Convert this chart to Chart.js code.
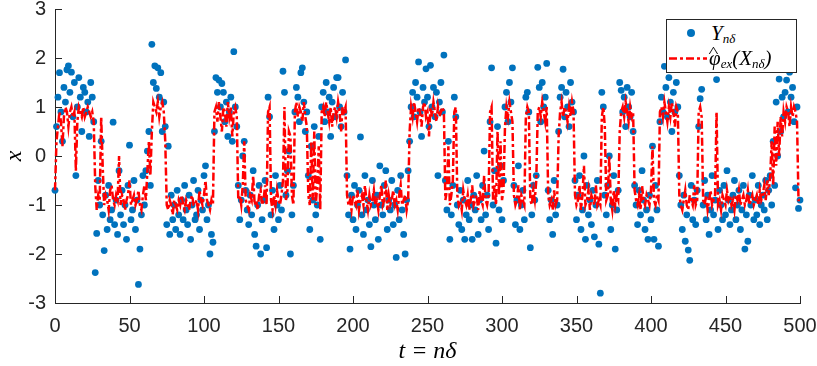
<!DOCTYPE html>
<html>
<head>
<meta charset="utf-8">
<script src="https://cdn.jsdelivr.net/npm/chart.js@4/dist/chart.umd.min.js"></script>
<style>
  html, body { margin: 0; padding: 0; background: #fff; }
  #wrap { position: relative; width: 817px; height: 366px; }
  #legend {
    position: absolute; left: 666px; top: 19px; width: 131px; height: 54px;
    border: 1px solid #262626; background: #fff; box-sizing: border-box;
    font-family: "Liberation Serif", "DejaVu Serif", serif; font-style: italic;
    font-size: 21px; color: #000;
  }
  #legend .row { position: absolute; left: 0; height: 24px; line-height: 24px; white-space: nowrap; }
  #legend sub { font-size: 13px; vertical-align: -3px; }
  #legend .txt { position: absolute; left: 44px; }
  #legend .dot { position: absolute; left: 20px; top: 8px; width: 8px; height: 8px; border-radius: 50%; background: #0072BD; }
  #legend .dash { position: absolute; left: 2px; top: 11px; width: 38px; height: 3px; }
  #legend .hat { position: relative; display: inline-block; }
  #legend .hat i { position: absolute; left: 1px; top: -1px; font-style: normal; font-size: 15px; line-height: 15px; transform: scaleX(1.4); }
</style>
</head>
<body>
<div id="wrap">
  <canvas id="chart" width="817" height="366"></canvas>
  <div id="legend">
    <div class="row" style="top:1px;width:129px"><span class="dot"></span><span class="txt">Y<sub>nδ</sub></span></div>
    <div class="row" style="top:26px;width:129px"><canvas class="dash" id="dash" width="38" height="3"></canvas><span class="txt" style="left:42px"><span class="hat">φ<i>^</i></span><sub>ex</sub>(X<sub>nδ</sub>)</span></div>
  </div>
</div>
<script>
// time axis: t = n*delta, n = 0..500
const tStart = 0;
const tStep = 1;

// observations Y_{n delta}
const yObs = [
  -0.7, 0.6, 1.2, 1.7, 0.9, 0.3, 1.4, 1.1, 1.76, 1.84,
  1.3, 1.71, 0.8, 1.5, -0.4, 1.0, 1.6, 1.2, 0.5, 1.4,
  1.3, 0.9, 1.1, 0.4, 1.5, 1.2, 0.7, -2.38, -1.58, -0.5,
  -1.0, 0.3, -1.2, -1.93, -0.8, -1.5, -0.6, -1.3, -1.1, 0.69,
  -1.4, -0.9, -1.6, -0.3, -1.2, -0.7, -1.4, -1.0, -1.7, -0.6,
  0.22, -1.3, -1.1, -0.5, -1.5, -0.9, -2.62, -1.9, -1.2, -0.4,
  -1.0, -0.3, 0.1, 0.5, -0.6, 2.28, 1.5, 1.84, 1.38, 1.8,
  1.2, 1.7, 0.5, 1.1, 0.6, -1.4, 0.2, -1.6, -0.8, -1.3,
  -1.0, -1.5, -0.7, -1.2, -1.6, -0.9, -1.3, -0.6, -1.1, -1.4,
  -0.8, -1.7, -1.0, -0.5, -1.3, -1.2, -0.7, -1.5, -0.9, -1.1,
  -0.4, -0.2, -1.3, -1.0, -2.0, -1.6, -1.76, 0.5, 1.6, 1.3,
  1.55, 1.0, 1.48, 1.3, 0.7, 1.1, 0.4, 0.9, 1.2, 0.3,
  2.13, 1.0, 0.6, -0.6, -1.3, -0.9, 0.0, 0.3, -0.7, -1.1,
  -1.4, -0.8, -1.2, -0.3, -1.6, -1.84, -1.0, -0.6, -2.0, -1.3,
  -0.9, -0.5, -1.87, 1.2, 0.8, -1.2, -0.7, -1.5, -0.4, -1.0,
  -1.3, -0.6, -1.1, 1.73, 1.3, -0.8, -0.3, 0.1, -2.0, -1.2,
  -0.6, 0.9, 1.4, 1.2, 0.7, 1.7, 1.8, 1.1, 0.5, 0.9,
  -0.4, -1.5, 0.2, -0.9, 0.6, -1.2, -1.0, 0.4, -1.7, 1.0,
  1.3, 0.7, 1.5, 0.9, 1.2, 0.4, 1.1, 1.4, 0.8, 1.6,
  1.6, 1.0, 0.6, 1.3, 0.9, 1.96, -0.4, -1.2, -1.9, -0.8,
  -1.3, -0.6, -1.5, -1.0, -0.7, 0.39, -1.2, -1.6, -0.4, -1.1,
  -0.9, -1.4, -1.85, -0.5, -1.0, -1.3, -0.8, -1.7, -0.2, -1.0,
  -1.2, -0.6, -0.3, -1.5, -0.9, -1.1, -0.5, -1.4, -1.0, -2.07,
  -0.7, -1.3, -0.4, -1.1, -1.6, -2.0, -0.9, -0.3, 0.3, 1.0,
  1.3, 0.8, 1.5, 1.2, 1.92, 0.9, 0.4, 1.4, 1.1, 1.78,
  1.2, 0.6, 1.85, 1.0, 1.4, 0.8, 1.3, -0.4, 1.1, 1.5,
  0.9, 2.06, -0.5, -1.1, 0.3, -1.7, -1.2, -0.6, 1.2, 0.8,
  -1.0, -1.4, -0.7, -1.5, -0.9, -1.7, -1.2, -0.5, -1.3, -1.0,
  -1.7, -0.8, -1.1, -0.4, -1.6, -0.9, -1.3, -0.6, 0.1, -1.2,
  -0.8, -1.5, 0.7, 1.8, -1.0, -0.3, -1.78, 0.6, -1.1, -0.2,
  -1.3, -0.5, 1.0, 1.3, 0.7, 1.5, 1.1, 1.8, -0.6, -1.4,
  -0.9, -0.2, -1.5, -1.0, -0.7, -1.3, 1.2, 1.3, 0.9, -1.87,
  -1.2, -0.6, -0.9, -0.4, 1.81, 1.4, 0.7, 1.5, 1.0, 1.2,
  1.89, -0.7, -1.3, -0.9, -1.6, -0.5, -1.2, -1.0, 0.5, 1.2,
  1.4, 1.77, 0.8, 1.3, 1.0, 0.6, 1.5, 1.1, 0.9, -0.5,
  -1.3, -0.8, -0.4, -1.5, -1.1, 0.0, -1.7, -0.6, -1.2, -0.9,
  -1.4, -0.7, -1.65, -1.0, -0.5, -1.8, -2.8, 1.3, 1.0, -0.8,
  -1.2, -0.6, 0.0, -1.5, -1.0, -0.4, -1.9, -1.1, -0.7, 1.5,
  1.34, 0.9, 1.2, 0.6, 1.4, 1.0, 0.8, 1.3, 0.5, -0.6,
  -1.0, -1.4, -0.7, -1.2, -0.3, -0.9, -1.5, -1.1, -1.7, -0.8,
  -1.3, 0.2, -1.7, -0.6, -1.1, -1.84, 0.7, 1.2, 0.9, 1.83,
  1.4, 0.8, 1.6, 1.1, 0.5, 1.3, 0.9, 1.5, 1.0, -0.4,
  -1.0, -1.5, -0.8, -1.74, -1.2, -1.92, -2.13, -0.6, -1.3, -0.9,
  -1.4, -0.7, 0.6, 1.17, 1.36, -1.0, -0.5, -1.3, -0.8, -1.6,
  -1.1, -0.4, -1.2, -0.9, 1.56, -1.5, -0.7, -1.0, -1.3, -0.6,
  -1.2, -0.3, -0.9, -1.4, -1.1, -0.8, -0.5, -1.3, -1.0, -0.7,
  -1.5, -1.1, -0.6, -1.9, -1.2, -1.74, -0.8, -1.0, -0.4, -1.3,
  -0.9, -1.2, -0.6, -1.4, -1.0, -0.8, -1.1, -0.5, -1.3, -0.7,
  -0.4, -1.0, 0.3, -0.6, 1.1, 0.0, 1.57, 0.5, 1.2, 0.8,
  1.3, 1.55, 0.9, 1.71, 1.2, 1.4, 0.7, -0.65, 1.0, -1.07,
  -0.9
];

// estimate phi_ex(X_{n delta})
const phiEx = [
  -0.7, 0.3, 0.6, 0.9, 0.7, 0.2, 0.8, 1.0, 0.9, 0.6,
  0.9, 1.0, 0.8, 0.9, -0.3, 0.7, 1.0, 0.9, 0.8, 1.0,
  0.8, 0.9, 1.0, 0.9, 0.8, 0.9, 0.7, -0.6, -1.1, -0.8,
  -0.9, 0.8, -0.2, -1.0, -0.8, -0.9, -1.1, -0.7, -0.6, -0.9,
  -1.0, -0.8, -0.9, 0.0, -1.0, -0.8, -0.9, -1.1, -0.9, -0.8,
  -0.5, -1.0, -0.9, -0.8, -1.0, -0.9, -0.7, -1.0, -1.1, -0.8,
  -0.6, -0.9, -0.3, 0.3, -0.4, 0.5, 1.1, 1.0, 0.9, 1.1,
  0.8, 1.0, 1.1, 0.9, 0.3, -1.0, -1.1, -0.9, -1.0, -1.2,
  -0.9, -1.0, -1.1, -0.9, -1.0, -0.8, -1.0, -1.1, -0.9, -1.0,
  -1.1, -0.9, -0.8, -1.0, -1.0, -0.9, -1.1, -0.7, -0.9, -1.0,
  -0.8, -0.5, -0.9, -1.0, -1.1, -0.9, -1.0, 0.9, 1.0, 0.7,
  1.1, 0.8, 0.5, 1.0, 0.9, 0.6, 1.1, 0.8, 1.0, 0.4,
  0.9, 1.0, 0.8, -0.9, -0.8, -1.0, -0.6, 0.3, -0.9, -1.0,
  -1.1, -0.8, -0.9, -0.4, -1.0, -0.9, -1.1, -0.8, -0.7, -1.0,
  -0.9, -0.6, -1.0, 0.9, 1.0, -0.9, -1.1, -0.8, -1.0, -0.7,
  -0.9, -1.0, -0.8, -0.5, 1.0, -0.9, -0.7, 0.5, 0.4, -0.8,
  -1.0, 0.9, 1.1, 0.8, 1.0, 0.9, 0.7, 1.1, 0.8, 0.6,
  -0.8, -1.0, 0.3, -0.9, 0.5, -1.0, -0.6, 0.2, -1.1, 0.9,
  1.0, 0.8, 1.1, 0.9, 0.7, 1.0, 0.6, 0.9, 1.0, 0.8,
  1.1, 0.9, 0.5, 1.0, 0.9, 1.0, -0.8, -1.0, -0.9, -1.1,
  -0.8, -0.9, -1.0, -0.7, -1.1, -0.9, -0.8, -1.0, -0.6, -0.9,
  -1.1, -0.8, -1.0, -0.9, -0.7, -1.0, -0.9, -1.1, -0.8, -0.6,
  -1.0, -0.9, -0.5, -1.1, -0.8, -1.0, -0.9, -0.7, -1.0, -0.9,
  -1.1, -0.8, -0.6, -1.0, -0.9, -0.8, -1.1, -0.9, 0.5, 1.0,
  0.8, 1.1, 0.9, 0.7, 1.0, 0.9, 0.6, 1.0, 1.1, 0.8,
  0.9, 0.4, 1.0, 0.8, 1.1, 0.9, 0.7, 1.0, 0.8, 0.9,
  1.0, 0.9, -0.9, -0.7, 0.2, -1.0, -0.8, -0.5, 0.9, 1.0,
  -0.8, -1.0, -0.9, -1.1, -0.7, -0.9, -1.0, -0.8, -1.1, -0.9,
  -0.6, -1.0, -0.9, -0.8, -1.1, -0.7, -0.9, -1.0, -0.4, -0.9,
  -1.0, -0.8, 0.9, 1.0, -0.9, -0.6, -1.0, 0.5, -0.8, 0.3,
  -0.9, -0.7, 0.6, 1.0, 0.8, 1.1, 0.9, 0.7, -0.8, -1.0,
  -0.9, -0.6, -1.1, -0.8, -0.9, -1.0, 0.8, 1.0, 0.9, -0.9,
  -1.0, -0.7, -0.9, -0.5, 0.9, 1.0, 0.8, 1.1, 0.9, 0.7,
  1.0, -0.8, -1.0, -0.9, -1.1, -0.7, -1.0, -0.9, 0.4, 0.9,
  1.1, 0.8, 1.0, 0.9, 0.7, 1.0, 0.8, 1.1, 0.9, -0.8,
  -1.0, -0.9, -0.6, -1.1, -0.8, -0.2, -1.0, -0.9, -0.7, -1.1,
  -0.8, -0.9, -1.0, -0.6, -1.0, -0.9, -1.0, 0.8, 1.0, 0.6,
  -0.9, -0.8, 0.0, -0.9, -1.1, -0.7, -1.0, -0.8, -0.9, 0.5,
  0.9, 1.0, 0.8, 1.1, 0.9, 0.7, 1.0, 0.8, 0.9, -0.7,
  -0.9, -1.0, -0.8, -1.1, -0.6, -0.9, -1.0, -0.8, -0.9, -1.0,
  -0.7, 0.2, -0.9, -1.0, -0.8, -0.9, 0.9, 1.0, 0.8, 1.1,
  0.9, 0.7, 1.0, 0.8, 1.1, 0.9, 0.6, 1.0, 0.9, -0.8,
  -1.0, -1.1, -0.9, -0.7, -1.0, -1.1, -0.8, -0.9, -1.0, -0.6,
  -1.0, -0.9, 0.9, 1.0, 0.8, -0.9, -1.0, -0.8, -1.1, -0.9,
  -0.7, -1.0, -0.9, -0.8, 0.9, -1.0, -0.9, -1.1, -0.8, -0.9,
  -1.0, -0.7, -0.9, -0.8, -1.0, -0.9, -1.1, -0.8, -0.9, -0.7,
  -1.0, -0.9, -0.8, -1.0, -0.9, -0.7, -1.0, -0.9, -0.8, -1.0,
  -0.9, -0.8, -1.0, -0.7, -0.9, -0.8, -0.6, -0.9, -0.5, -0.8,
  -0.4, 0.3, -0.6, 0.6, -0.2, 0.7, 0.0, 0.8, 0.4, 0.9,
  0.7, 1.0, 0.9, 0.6, 1.0, 0.8, 1.0, 0.9, 0.7, -0.9,
  -0.9
];

const xTicks = [0, 50, 100, 150, 200, 250, 300, 350, 400, 450, 500];
const yTicks = [-3, -2, -1, 0, 1, 2, 3];

const blue = '#0072BD';
const red = '#FF0000';
const axisColor = '#262626';
const lineDash = [8, 3, 3, 3];

const toPoints = arr => arr.map((v, i) => ({ x: tStart + i * tStep, y: v }));

// MATLAB style inward ticks
const inwardTicks = {
  id: 'inwardTicks',
  afterDraw(chart) {
    const { ctx, chartArea: a, scales: { x, y } } = chart;
    ctx.save();
    ctx.strokeStyle = axisColor;
    ctx.lineWidth = 1;
    ctx.beginPath();
    xTicks.forEach(v => {
      const px = Math.round(x.getPixelForValue(v)) + 0.5;
      ctx.moveTo(px, a.bottom);
      ctx.lineTo(px, a.bottom - 7);
    });
    yTicks.forEach(v => {
      const py = Math.round(y.getPixelForValue(v)) + 0.5;
      ctx.moveTo(a.left, py);
      ctx.lineTo(a.left + 7, py);
    });
    ctx.stroke();
    ctx.restore();
  }
};

new Chart(document.getElementById('chart'), {
  type: 'scatter',
  data: {
    datasets: [
      {
        type: 'line',
        label: 'phi_ex',
        data: toPoints(phiEx),
        borderColor: red,
        borderWidth: 2.5,
        borderDash: lineDash,
        pointRadius: 0,
        tension: 0,
        fill: false,
        clip: false,
        order: 0
      },
      {
        label: 'Y',
        data: toPoints(yObs),
        backgroundColor: blue,
        borderColor: blue,
        borderWidth: 0,
        pointRadius: 3.4,
        clip: false,
        order: 1
      }
    ]
  },
  options: {
    responsive: false,
    animation: false,
    layout: { padding: { top: 9, right: 17, left: 0, bottom: 0 } },
    plugins: { legend: { display: false }, tooltip: { enabled: false } },
    scales: {
      x: {
        type: 'linear',
        min: 0, max: 500,
        afterBuildTicks: s => { s.ticks = xTicks.map(v => ({ value: v })); },
        afterFit: s => { s.height = 63; s.paddingLeft = 0; s.paddingRight = 0; },
        grid: { display: true, drawOnChartArea: false, drawTicks: false },
        border: { display: true, color: axisColor, width: 1 },
        ticks: { color: axisColor, padding: 11, maxRotation: 0, font: { family: 'Liberation Sans', size: 20 } },
        title: {
          display: true, text: 't = nδ', color: '#000', padding: { top: 0, bottom: 0 },
          font: { family: 'Liberation Serif', style: 'italic', size: 24 }
        }
      },
      y: {
        min: -3, max: 3,
        afterBuildTicks: s => { s.ticks = yTicks.map(v => ({ value: v })); },
        afterFit: s => { s.width = 55; s.paddingTop = 0; s.paddingBottom = 0; },
        grid: { display: true, drawOnChartArea: false, drawTicks: false },
        border: { display: true, color: axisColor, width: 1 },
        ticks: { color: axisColor, padding: 9, font: { family: 'Liberation Sans', size: 20 } },
        title: {
          display: true, text: 'x', color: '#000', padding: { top: 0, bottom: 2 },
          font: { family: 'Liberation Serif', style: 'italic', size: 24 }
        }
      }
    }
  },
  plugins: [inwardTicks]
});

// legend sample line
const dctx = document.getElementById('dash').getContext('2d');
dctx.strokeStyle = red;
dctx.lineWidth = 2.5;
dctx.setLineDash(lineDash);
dctx.beginPath();
dctx.moveTo(0, 1.5);
dctx.lineTo(38, 1.5);
dctx.stroke();
</script>
</body>
</html>
